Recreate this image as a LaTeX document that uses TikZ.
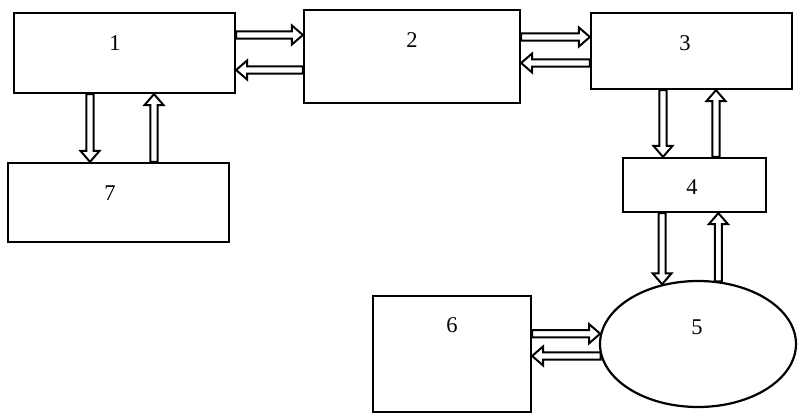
\documentclass[tikz,border=0pt]{standalone}
\usepackage{fontspec}
\setmainfont{Liberation Serif}
\usetikzlibrary{calc,shapes.geometric}
\tikzset{
  box/.style={draw,line width=2.2pt,inner sep=0pt},
  oval/.style={draw,ellipse,line width=2.2pt,inner sep=0pt},
  num/.style={font=\fontsize{22.5}{22.5}\selectfont,inner sep=0pt},
  barrow/.style={draw,line width=2pt,fill=white,line join=miter},
}
\newcommand{\blockarr}[2]{%
  \coordinate (bah) at ($(#2)!11pt!(#1)$);
  \draw[barrow] ($(#1)!3.6pt!90:(#2)$) -- ($(bah)!3.6pt!90:(#2)$) -- ($(bah)!9.5pt!90:(#2)$) -- (#2)
     -- ($(bah)!9.5pt!-90:(#2)$) -- ($(bah)!3.6pt!-90:(#2)$) -- ($(#1)!3.6pt!-90:(#2)$) -- cycle;}
\begin{document}
\begin{tikzpicture}[x=1pt,y=-1pt]
\useasboundingbox (0,0) rectangle (804,418);
% boxes
\node[box,minimum width=221pt,minimum height=80pt] (n1) at (124.5,53) {};
\node[box,minimum width=216pt,minimum height=93pt] (n2) at (412,56.5) {};
\node[box,minimum width=201pt,minimum height=76pt] (n3) at (691.5,51) {};
\node[box,minimum width=143pt,minimum height=54pt] (n4) at (694.5,185) {};
\node[box,minimum width=221pt,minimum height=79pt] (n7) at (118.5,202.5) {};
\node[box,minimum width=158pt,minimum height=116pt] (n6) at (452,354) {};
\node[oval,minimum width=196pt,minimum height=126pt] (n5) at (698,344) {};
% labels
\node[num] (t1) at (115,43) {1};
\node[num] (t2) at (412,40) {2};
\node[num] (t3) at (685,43) {3};
\node[num] (t4) at (692,187) {4};
\node[num] (t7) at (110,193) {7};
\node[num] (t6) at (452,325) {6};
\node[num] (t5) at (697,327) {5};
% arrows 1 <-> 2
\blockarr{n1.east |- 0,35}{n2.west |- 0,35}
\blockarr{n2.west |- 0,70}{n1.east |- 0,70}
% 2 <-> 3
\blockarr{n2.east |- 0,37}{n3.west |- 0,37}
\blockarr{n3.west |- 0,63}{n2.east |- 0,63}
% 1 <-> 7
\blockarr{n1.south -| 90,0}{n7.north -| 90,0}
\blockarr{n7.north -| 154,0}{n1.south -| 154,0}
% 3 <-> 4
\blockarr{n3.south -| 663,0}{n4.north -| 663,0}
\blockarr{n4.north -| 716,0}{n3.south -| 716,0}
% 4 <-> 5
\blockarr{n4.south -| n5.121.6}{n5.121.6}
\blockarr{n5.72.9}{n4.south -| n5.72.9}
% 6 <-> 5
\blockarr{n6.east |- n5.174.1}{n5.174.1}
\blockarr{n5.187.7}{n6.east |- n5.187.7}
\end{tikzpicture}
\end{document}
